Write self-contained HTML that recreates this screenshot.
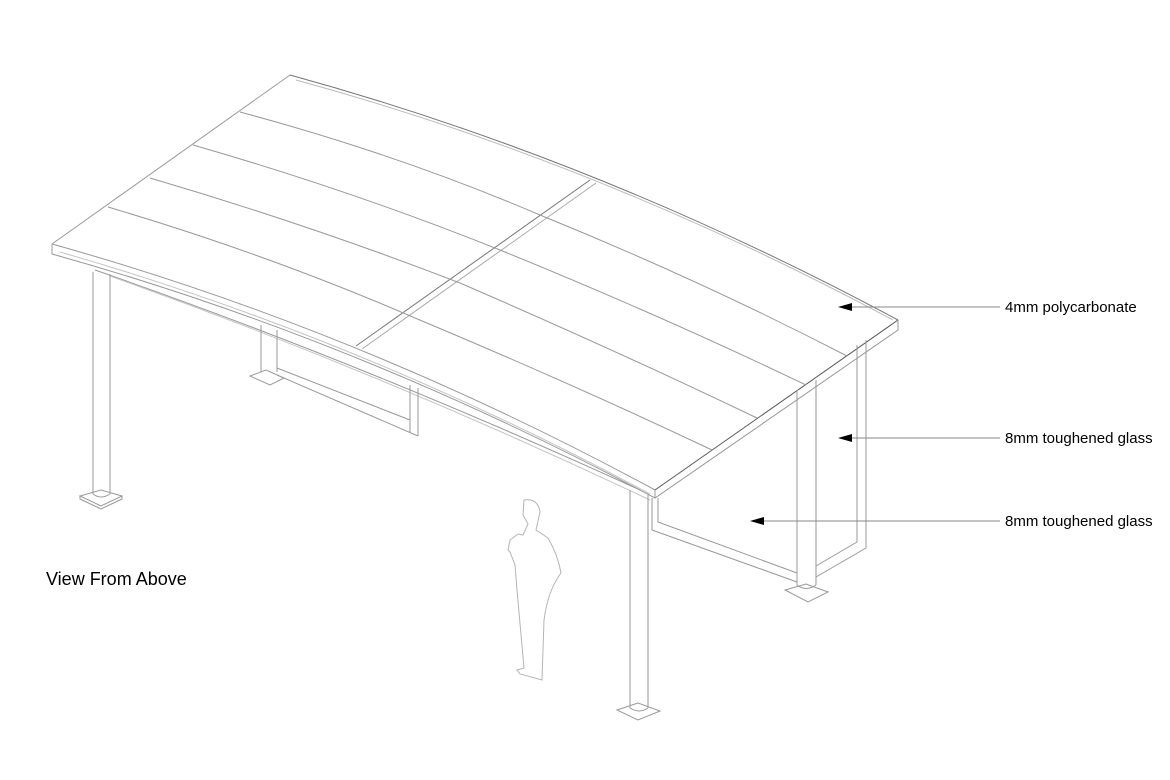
<!DOCTYPE html>
<html><head><meta charset="utf-8"><style>
html,body{margin:0;padding:0;background:#fff;}
svg{display:block;}
text{font-family:"Liberation Sans",sans-serif;fill:#000;}
</style></head><body>
<svg width="1170" height="780" viewBox="0 0 1170 780" xmlns="http://www.w3.org/2000/svg">
<g fill="none" stroke="#999" stroke-width="1">
<!-- roof outline -->
<path d="M290,75 Q600,160 898,320" stroke="#777"/>
<path d="M296,80 Q600,163 893,320" stroke="#bbb"/>
<path d="M290,75 L52,244"/>
<path d="M898,320 L655,490" stroke="#555"/>
<path d="M52,244 Q360,330 655,490"/>
<!-- fascia thickness -->
<path d="M52,244 L52,254 Q360,340 655,498 L898,330 L898,320"/>
<path d="M655,490 L655,498"/>
<path d="M60,252 Q360,338 650,494" stroke="#c4c4c4"/>
<!-- beam below -->
<path d="M95,270 Q360,362 640,490"/>
<path d="M110,276 Q380,372 650,500" stroke="#c4c4c4"/>
<!-- divider -->
<path d="M590,180 L356,346" stroke="#777"/>
<path d="M596,183 L362,349" stroke="#aaa"/>
<!-- panel lines left -->
<path d="M240,112 Q400,155 540,215"/>
<path d="M193,145 Q350,190 500,250"/>
<path d="M150,178 Q310,225 460,283"/>
<path d="M108,207 Q270,255 415,318"/>
<!-- panel lines right -->
<path d="M540,215 Q700,280 847,356"/>
<path d="M500,250 Q660,315 806,385"/>
<path d="M460,283 Q615,350 757,418"/>
<path d="M415,318 Q575,385 712,450"/>
<!-- left front post -->
<path d="M93,272 L93,494 M110,274 L110,494"/>
<path d="M93,494 Q101,500 110,494"/>
<path d="M80,496 L101,490 L122,496 L101,506 Z"/>
<path d="M80,496 L80,499 L101,509 L122,499 L122,496"/>
<!-- back left post -->
<path d="M261,325 L261,372 M277,330 L277,372"/>
<path d="M250,376 L266,370 L284,378 L270,385 Z"/>
<!-- back left glass frame -->
<path d="M277,368 L410,420 M277,375 L418,436 M410,385 L410,432 M418,388 L418,436"/>
<!-- front post -->
<path d="M630,490 L630,708 M648,494 L648,708"/>
<path d="M630,708 Q639,714 648,708"/>
<path d="M617,710 L638,703 L660,711 L638,720 Z"/>
<!-- front glass -->
<path d="M652,498 L652,530 L797,582 M658,498 L658,522 L797,573"/>
<!-- right post -->
<path d="M797,390 L797,585 M816,380 L816,585"/>
<path d="M797,585 Q806,592 816,585"/>
<path d="M785,590 L806,584 L828,592 L808,602 Z"/>
<!-- right glass -->
<path d="M857,345 L857,542 L816,566 M866,340 L866,548 L816,577"/>
<!-- person -->
<path d="M524,500 Q538,498 540,512 L536,530 L548,538 Q558,555 561,573 Q548,590 544,620 L542,680 L520,674 L517,670 L524,668 L517,590 L515,565 L510,552 L508,550 L510,540 L518,534 L523,535 L528,524 L523,515 Z" stroke="#b4b4b4"/>
<!-- leaders -->
<path d="M1000,307 L850,307 M1000,438 L850,438 M1000,521 L762,521" stroke="#888"/>
</g>
<g fill="#000">
<path d="M838,307 L852,303 L852,311 Z"/>
<path d="M838,438 L852,434 L852,442 Z"/>
<path d="M750,521 L764,517 L764,525 Z"/>
</g>
<text x="1005" y="312" font-size="15">4mm polycarbonate</text>
<text x="1005" y="443" font-size="15">8mm toughened glass</text>
<text x="1005" y="526" font-size="15">8mm toughened glass</text>
<text x="46" y="585" font-size="18">View From Above</text>
</svg>
</body></html>
